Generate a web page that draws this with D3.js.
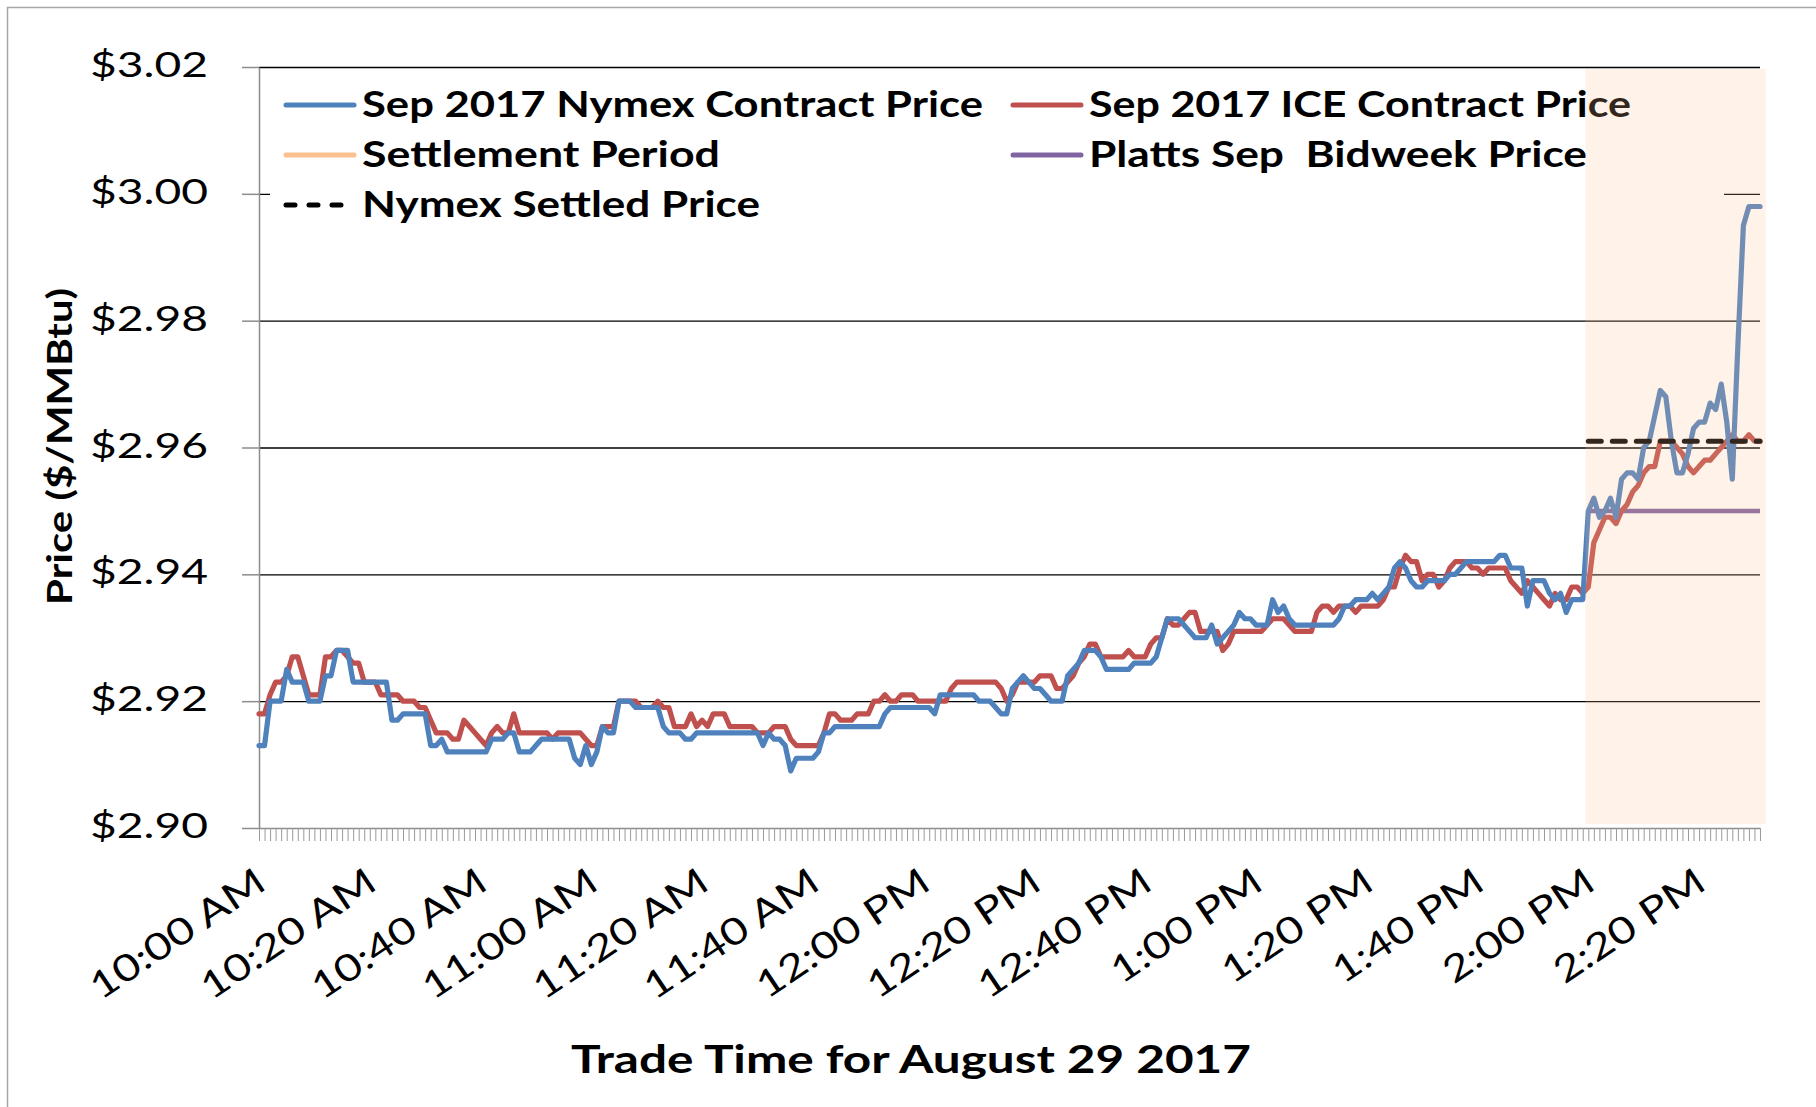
<!DOCTYPE html>
<html>
<head>
<meta charset="utf-8">
<script src="https://cdn.jsdelivr.net/npm/d3@7"></script>
<style>
  body { margin: 0; background: #fff; }
  svg { display: block; font-family: Lato, "Open Sans", sans-serif; }
  text { white-space: pre; }
</style>
</head>
<body>
<div id="chart"></div>
<script>
// Minute categories, 10:00 AM to 2:31 PM, Aug 29 2017
const startTime = new Date(2017, 7, 29, 10, 0);
const endTime = new Date(2017, 7, 29, 14, 32); // exclusive

// Sep 2017 Nymex contract price, one value per minute
const nymex = [
  2.913, 2.913, 2.920, 2.920, 2.920, 2.925, 2.923, 2.923, 2.923, 2.920,
  2.920, 2.920, 2.924, 2.924, 2.928, 2.928, 2.928, 2.923, 2.923, 2.923,
  2.923, 2.923, 2.923, 2.923, 2.917, 2.917, 2.918, 2.918, 2.918, 2.918,
  2.918, 2.913, 2.913, 2.914, 2.912, 2.912, 2.912, 2.912, 2.912, 2.912,
  2.912, 2.912, 2.914, 2.914, 2.914, 2.915, 2.915, 2.912, 2.912, 2.912,
  2.913, 2.914, 2.914, 2.914, 2.914, 2.914, 2.914, 2.911, 2.910, 2.913,
  2.910, 2.912, 2.916, 2.915, 2.915, 2.920, 2.920, 2.920, 2.919, 2.919,
  2.919, 2.919, 2.919, 2.916, 2.915, 2.915, 2.915, 2.914, 2.914, 2.915,
  2.915, 2.915, 2.915, 2.915, 2.915, 2.915, 2.915, 2.915, 2.915, 2.915,
  2.915, 2.913, 2.915, 2.914, 2.914, 2.913, 2.909, 2.911, 2.911, 2.911,
  2.911, 2.912, 2.915, 2.915, 2.916, 2.916, 2.916, 2.916, 2.916, 2.916,
  2.916, 2.916, 2.916, 2.918, 2.919, 2.919, 2.919, 2.919, 2.919, 2.919,
  2.919, 2.919, 2.918, 2.921, 2.921, 2.921, 2.921, 2.921, 2.921, 2.921,
  2.920, 2.920, 2.920, 2.919, 2.918, 2.918, 2.922, 2.923, 2.924, 2.923,
  2.922, 2.922, 2.921, 2.920, 2.920, 2.920, 2.924, 2.925, 2.926, 2.928,
  2.928, 2.928, 2.927, 2.925, 2.925, 2.925, 2.925, 2.925, 2.926, 2.926,
  2.926, 2.926, 2.927, 2.930, 2.933, 2.933, 2.933, 2.932, 2.931, 2.930,
  2.930, 2.930, 2.932, 2.929, 2.930, 2.931, 2.932, 2.934, 2.933, 2.933,
  2.932, 2.932, 2.932, 2.936, 2.934, 2.935, 2.933, 2.932, 2.932, 2.932,
  2.932, 2.932, 2.932, 2.932, 2.932, 2.933, 2.935, 2.935, 2.936, 2.936,
  2.936, 2.937, 2.936, 2.937, 2.938, 2.941, 2.942, 2.941, 2.939, 2.938,
  2.938, 2.939, 2.939, 2.939, 2.939, 2.940, 2.940, 2.941, 2.942, 2.942,
  2.942, 2.942, 2.942, 2.942, 2.943, 2.943, 2.941, 2.941, 2.941, 2.935,
  2.939, 2.939, 2.939, 2.937, 2.936, 2.937, 2.934, 2.936, 2.936, 2.936,
  2.950, 2.952, 2.949, 2.950, 2.952, 2.949, 2.955, 2.956, 2.956, 2.955,
  2.960, 2.961, 2.965, 2.969, 2.968, 2.961, 2.956, 2.956, 2.959, 2.963,
  2.964, 2.964, 2.967, 2.966, 2.970, 2.964, 2.955, 2.976, 2.995, 2.998,
  2.998, 2.998
];

// Sep 2017 ICE contract price, one value per minute
const ice = [
  2.918, 2.918, 2.921, 2.923, 2.923, 2.924, 2.927, 2.927, 2.924, 2.921,
  2.921, 2.921, 2.927, 2.927, 2.928, 2.928, 2.927, 2.926, 2.926, 2.923,
  2.923, 2.923, 2.921, 2.921, 2.921, 2.921, 2.920, 2.920, 2.920, 2.919,
  2.919, 2.917, 2.915, 2.915, 2.915, 2.914, 2.914, 2.917, 2.916, 2.915,
  2.914, 2.913, 2.915, 2.916, 2.915, 2.915, 2.918, 2.915, 2.915, 2.915,
  2.915, 2.915, 2.915, 2.914, 2.915, 2.915, 2.915, 2.915, 2.915, 2.914,
  2.913, 2.913, 2.916, 2.916, 2.916, 2.920, 2.920, 2.920, 2.920, 2.919,
  2.919, 2.919, 2.920, 2.919, 2.919, 2.916, 2.916, 2.916, 2.918, 2.916,
  2.917, 2.916, 2.918, 2.918, 2.918, 2.916, 2.916, 2.916, 2.916, 2.916,
  2.915, 2.915, 2.915, 2.916, 2.916, 2.916, 2.914, 2.913, 2.913, 2.913,
  2.913, 2.913, 2.915, 2.918, 2.918, 2.917, 2.917, 2.917, 2.918, 2.918,
  2.918, 2.920, 2.920, 2.921, 2.920, 2.920, 2.921, 2.921, 2.921, 2.920,
  2.920, 2.920, 2.920, 2.920, 2.920, 2.922, 2.923, 2.923, 2.923, 2.923,
  2.923, 2.923, 2.923, 2.923, 2.922, 2.920, 2.921, 2.923, 2.923, 2.923,
  2.923, 2.924, 2.924, 2.924, 2.922, 2.922, 2.923, 2.924, 2.926, 2.927,
  2.929, 2.929, 2.927, 2.927, 2.927, 2.927, 2.927, 2.928, 2.927, 2.927,
  2.927, 2.929, 2.930, 2.930, 2.933, 2.932, 2.932, 2.933, 2.934, 2.934,
  2.931, 2.931, 2.931, 2.931, 2.928, 2.929, 2.931, 2.931, 2.931, 2.931,
  2.931, 2.931, 2.932, 2.933, 2.933, 2.933, 2.932, 2.931, 2.931, 2.931,
  2.931, 2.934, 2.935, 2.935, 2.934, 2.935, 2.935, 2.935, 2.934, 2.935,
  2.935, 2.935, 2.935, 2.936, 2.938, 2.938, 2.941, 2.943, 2.942, 2.942,
  2.939, 2.940, 2.940, 2.938, 2.939, 2.941, 2.942, 2.942, 2.942, 2.941,
  2.941, 2.940, 2.941, 2.941, 2.941, 2.941, 2.939, 2.938, 2.937, 2.939,
  2.938, 2.937, 2.936, 2.935, 2.937, 2.936, 2.936, 2.938, 2.938, 2.937,
  2.938, 2.945, 2.947, 2.949, 2.949, 2.948, 2.950, 2.951, 2.953, 2.954,
  2.956, 2.957, 2.957, 2.961, 2.961, 2.961, 2.960, 2.959, 2.957, 2.956,
  2.957, 2.958, 2.958, 2.959, 2.960, 2.961, 2.962, 2.961, 2.961, 2.962,
  2.961, 2.961
];

const settledPrice = 2.961;   // Nymex settled price
const plattsPrice = 2.950;    // Platts Sep bidweek price
const settlementPeriod = ["2:00 PM", "2:31 PM"];

const yTicks = [2.90, 2.92, 2.94, 2.96, 2.98, 3.00, 3.02];
const xTickLabels = ["10:00 AM", "10:20 AM", "10:40 AM", "11:00 AM", "11:20 AM", "11:40 AM",
  "12:00 PM", "12:20 PM", "12:40 PM", "1:00 PM", "1:20 PM", "1:40 PM", "2:00 PM", "2:20 PM"];

const seriesNames = ["Sep 2017 Nymex Contract Price", "Sep 2017 ICE Contract Price",
  "Settlement Period", "Platts Sep  Bidweek Price", "Nymex Settled Price"];

// SVG dimensions
const width = 1816, height = 1107;
const plot = { left: 259, right: 1760, top: 67, bottom: 828 };

const fmt = d3.timeFormat("%-I:%M %p");
const categories = d3.timeMinute.range(startTime, endTime).map(fmt);

const svg = d3.select("#chart").append("svg")
  .attr("width", width)
  .attr("height", height);

// outer chart border
svg.append("rect")
  .attr("x", 7.5).attr("y", 7.5)
  .attr("width", width + 20).attr("height", height + 20)
  .attr("fill", "#fff")
  .attr("stroke", "#a6a6a6")
  .attr("stroke-width", 1.5);

// scales
const x = d3.scalePoint().domain(categories).range([plot.left, plot.right]);
const y = d3.scaleLinear().domain([2.90, 3.02]).range([plot.bottom, plot.top]);
const step = x.step();

// gridlines
svg.append("g")
  .attr("transform", `translate(${plot.left},0)`)
  .call(d3.axisLeft(y).tickValues(yTicks.slice(1)).tickSize(-(plot.right - plot.left)).tickFormat(""))
  .call(g => g.select(".domain").remove())
  .call(g => g.selectAll("line").attr("stroke", "#000").attr("stroke-width", 1.4));

// legend (white box hides the gridline behind it)
const legend = svg.append("g");
legend.append("rect")
  .attr("x", 270).attr("y", 74)
  .attr("width", 1724 - 270).attr("height", 154)
  .attr("fill", "#fff");

const legendItems = [
  { name: seriesNames[0], color: "#4F81BD", dash: null, col: 0, row: 0, w: 621 },
  { name: seriesNames[1], color: "#C0504D", dash: null, col: 1, row: 0, w: 542 },
  { name: seriesNames[2], color: "#FAC090", dash: null, col: 0, row: 1, w: 358 },
  { name: seriesNames[3], color: "#8064A2", dash: null, col: 1, row: 1, w: 498 },
  { name: seriesNames[4], color: "#000", dash: "9,14", col: 0, row: 2, w: 398 }
];
const colX = [284, 1011];
legendItems.forEach(d => {
  const ly = 105 + d.row * 50;
  const lx = colX[d.col];
  legend.append("line")
    .attr("x1", lx + 2).attr("x2", lx + 70)
    .attr("y1", ly).attr("y2", ly)
    .attr("stroke", d.color)
    .attr("stroke-width", 5)
    .attr("stroke-linecap", "round")
    .attr("stroke-dasharray", d.dash);
  legend.append("text")
    .attr("x", lx + 78).attr("y", ly + 12)
    .attr("font-size", 36).attr("font-weight", 700)
    .attr("fill", "#000")
    .attr("textLength", d.w)
    .attr("lengthAdjust", "spacingAndGlyphs")
    .text(d.name);
});

// y axis
const yAxis = svg.append("g")
  .attr("transform", `translate(${plot.left},0)`)
  .call(d3.axisLeft(y).tickValues(yTicks).tickSize(17).tickSizeOuter(0).tickPadding(34)
    .tickFormat(d => "$" + d.toFixed(2)));
yAxis.select(".domain").attr("stroke", "#8c8c8c").attr("stroke-width", 1.5);
yAxis.selectAll(".tick line").attr("stroke", "#8c8c8c").attr("stroke-width", 1.5);
yAxis.selectAll(".tick text")
  .attr("dy", null).attr("y", 9.5)
  .attr("font-size", 34).attr("font-family", "Lato, 'Open Sans', sans-serif")
  .attr("fill", "#000")
  .attr("textLength", 118)
  .attr("lengthAdjust", "spacingAndGlyphs");

// x axis with a tick at every minute
const xAxis = svg.append("g")
  .attr("transform", `translate(0,${plot.bottom})`)
  .call(d3.axisBottom(x).tickSize(13).tickSizeOuter(0).tickFormat(""));
xAxis.select(".domain").attr("stroke", "#8c8c8c").attr("stroke-width", 1.5);
xAxis.selectAll(".tick line").attr("stroke", "#9a9a9a").attr("stroke-width", 1);

// rotated time labels
const xLabels = svg.append("g");
xLabels.selectAll("text")
  .data(xTickLabels)
  .enter().append("text")
  .attr("transform", d => `translate(${x(d) + 9},888) rotate(-34)`)
  .attr("text-anchor", "end")
  .attr("font-size", 37)
  .attr("fill", "#000")
  .text(d => d)
  .each(function() {
    const natural = this.getComputedTextLength();
    d3.select(this).attr("textLength", natural * 1.24).attr("lengthAdjust", "spacingAndGlyphs");
  });

// axis titles
svg.append("text")
  .attr("x", 911).attr("y", 1073)
  .attr("text-anchor", "middle")
  .attr("font-size", 37.5).attr("font-weight", 700)
  .attr("textLength", 680).attr("lengthAdjust", "spacingAndGlyphs")
  .text("Trade Time for August 29 2017");

svg.append("text")
  .attr("transform", "translate(72,446.5) rotate(-90)")
  .attr("text-anchor", "middle")
  .attr("font-size", 35).attr("font-weight", 700)
  .attr("textLength", 317).attr("lengthAdjust", "spacingAndGlyphs")
  .text("Price ($/MMBtu)");

// settlement-period flat lines
const settleIdx = categories.indexOf(settlementPeriod[0]);
const settleCats = categories.slice(settleIdx);

const line = d3.line()
  .x(d => x(d[0]))
  .y(d => y(d[1]));

svg.append("path")
  .datum(settleCats.map(c => [c, plattsPrice]))
  .attr("d", line)
  .attr("fill", "none")
  .attr("stroke", "#8064A2")
  .attr("stroke-width", 4.5);

svg.append("path")
  .datum(categories.map((c, i) => [c, ice[i]]))
  .attr("d", line)
  .attr("fill", "none")
  .attr("stroke", "#C0504D")
  .attr("stroke-width", 5.2)
  .attr("stroke-linejoin", "round")
  .attr("stroke-linecap", "round");

svg.append("path")
  .datum(categories.map((c, i) => [c, nymex[i]]))
  .attr("d", line)
  .attr("fill", "none")
  .attr("stroke", "#4F81BD")
  .attr("stroke-width", 5.2)
  .attr("stroke-linejoin", "round")
  .attr("stroke-linecap", "round");

svg.append("path")
  .datum(settleCats.map(c => [c, settledPrice]))
  .attr("d", line)
  .attr("fill", "none")
  .attr("stroke", "#000")
  .attr("stroke-width", 5)
  .attr("stroke-linecap", "round")
  .attr("stroke-dasharray", "13,11");

// settlement period shading, drawn on top as a translucent band
const y2 = d3.scaleLinear().domain([0, 1]).range([824, 69]);
const settleEnd = categories.indexOf(settlementPeriod[1]);
svg.append("rect")
  .attr("x", x(settlementPeriod[0]) - step / 2)
  .attr("y", y2(1))
  .attr("width", x(categories[settleEnd]) - x(settlementPeriod[0]) + step + 3)
  .attr("height", y2(0) - y2(1))
  .attr("fill", "#FAC090")
  .attr("fill-opacity", 0.2);
</script>
</body>
</html>
